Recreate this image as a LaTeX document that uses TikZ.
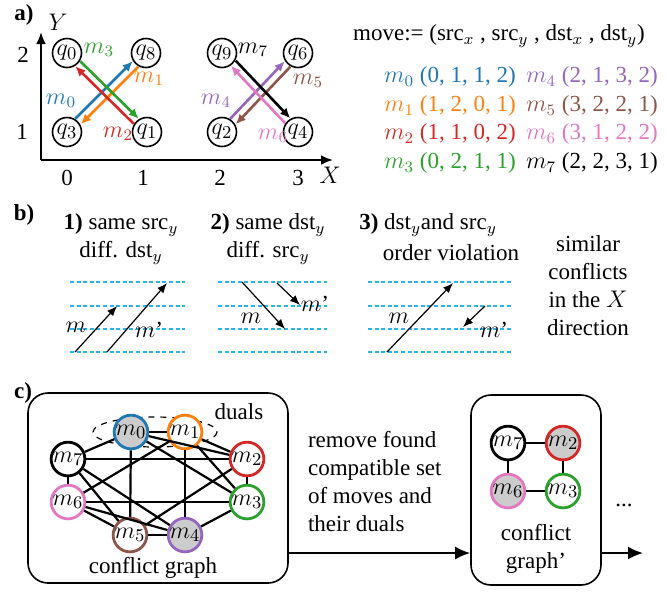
\documentclass[tikz,border=0pt]{standalone}
\usepackage{fontspec}
\setmainfont{Liberation Serif}
\usetikzlibrary{arrows.meta,calc}

\definecolor{c0}{RGB}{31,119,180}
\definecolor{c1}{RGB}{255,127,14}
\definecolor{c2}{RGB}{214,39,40}
\definecolor{c3}{RGB}{44,160,44}
\definecolor{c4}{RGB}{148,103,189}
\definecolor{c5}{RGB}{140,86,75}
\definecolor{c6}{RGB}{227,119,194}
\definecolor{c7}{RGB}{0,0,0}
\definecolor{dashcyan}{RGB}{40,180,230}
\definecolor{dualfill}{RGB}{204,204,204}

\begin{document}
\begin{tikzpicture}[x=0.5pt,y=-0.5pt,
  every node/.style={font=\fontsize{11.5}{14}\selectfont},
  qnode/.style={circle,draw,line width=0.8pt,minimum size=14.5pt,inner sep=0pt,font=\fontsize{12.5}{14}\selectfont},
  mv/.style={line width=1.3pt,-{Latex[length=5pt,width=4.5pt]}},
  axisline/.style={line width=1.3pt,-{Latex[length=6pt,width=5pt]}},
  guide/.style={dashcyan,line width=0.6pt,dash pattern=on 2pt off 1.3pt},
  thinarrow/.style={line width=0.6pt,-{Latex[length=5pt,width=4pt]}},
  gnode/.style={circle,draw,line width=1.4pt,minimum size=15pt,inner sep=0pt,fill=white,font=\fontsize{12.5}{14}\selectfont},
  dual/.style={gnode,fill=dualfill},
  gedge/.style={line width=1.1pt},
  box/.style={draw,rounded corners=10pt,line width=0.8pt},
  flow/.style={line width=1pt,-{Latex[length=7.5pt,width=6.5pt]}},
  lbl/.style={font=\fontsize{11.5}{14}\selectfont\bfseries}]

\useasboundingbox (0,0) rectangle (667,591);

% ---------------- a) coordinate grid with moves ----------------
\node[lbl] (la) at (24,15) {a)};
\coordinate (org) at (41,160);
\coordinate (ytop) at (41,32);
\coordinate (xend) at (333,160);
\draw[axisline] (org) -- (ytop);
\draw[axisline] (org) -- (xend);
\node (ylab) at (58,22) {$Y$};
\node (xlab) at (330,175) {$X$};
\node (ty2) at (23,55) {2};
\node (ty1) at (22,132) {1};
\node (tx0) at (67,178) {0};
\node (tx1) at (143,178) {1};
\node (tx2) at (220,178) {2};
\node (tx3) at (298,178) {3};

\node[qnode] (q0) at (67,53) {$q_0$};
\node[qnode] (q8) at (146,53) {$q_8$};
\node[qnode] (q3) at (67,132) {$q_3$};
\node[qnode] (q1) at (147,132) {$q_1$};
\node[qnode] (q9) at (222,53) {$q_9$};
\node[qnode] (q6) at (298,53) {$q_6$};
\node[qnode] (q2) at (222,132) {$q_2$};
\node[qnode] (q4) at (298,132) {$q_4$};

\draw[mv,c0] ([shift={(-2.5,-2.5)}]q3.45) -- ([shift={(-2.5,-2.5)}]q8.225);
\draw[mv,c1] ([shift={(3,3)}]q8.225) -- ([shift={(3,3)}]q3.45);
\draw[mv,c2] ([shift={(-2.5,2.5)}]q1.135) -- ([shift={(-2.5,2.5)}]q0.315);
\draw[mv,c3] ([shift={(2.5,-2.5)}]q0.315) -- ([shift={(2.5,-2.5)}]q1.135);
\draw[mv,c4] ([shift={(-2.5,-2.5)}]q2.45) -- ([shift={(-2.5,-2.5)}]q6.225);
\draw[mv,c5] ([shift={(3,3)}]q6.225) -- ([shift={(3,3)}]q2.45);
\draw[mv,c6] ([shift={(-2,2)}]q4.135) -- ([shift={(-2,2)}]q9.315);
\draw[mv,c7] ([shift={(3,-3)}]q9.315) -- ([shift={(3,-3)}]q4.135);

\node[text=c3] (l3) at (99,50) {$m_3$};
\node[text=c1] (l1) at (149,79) {$m_1$};
\node[text=c0] (l0) at (61,101) {$m_0$};
\node[text=c2] (l2) at (118,134) {$m_2$};
\node[text=c7] (l7) at (253,50) {$m_7$};
\node[text=c5] (l5) at (308,81) {$m_5$};
\node[text=c4] (l4) at (216,101) {$m_4$};
\node[text=c6] (l6) at (273,136) {$m_6$};

\node (movedef) at (499,36) {move:= (src$_x$ , src$_y$ , dst$_x$ , dst$_y$)};
\node[anchor=west,text=c0] (t0) at (377,77) {$m_0$ (0, 1, 1, 2)};
\node[anchor=west,text=c1] (t1) at (377,106) {$m_1$ (1, 2, 0, 1)};
\node[anchor=west,text=c2] (t2) at (377,134) {$m_2$ (1, 1, 0, 2)};
\node[anchor=west,text=c3] (t3) at (377,163) {$m_3$ (0, 2, 1, 1)};
\node[anchor=west,text=c4] (t4) at (519,77) {$m_4$ (2, 1, 3, 2)};
\node[anchor=west,text=c5] (t5) at (519,106) {$m_5$ (3, 2, 2, 1)};
\node[anchor=west,text=c6] (t6) at (519,134) {$m_6$ (3, 1, 2, 2)};
\node[anchor=west,text=c7] (t7) at (519,163) {$m_7$ (2, 2, 3, 1)};

% ---------------- b) conflict kinds ----------------
\node[lbl] (lb) at (24,215) {b)};
\node[align=center] (b1) at (121,239) {\textbf{1)} same src$_y$\\ diff. dst$_y$};
\node[align=center] (b2) at (268,239) {\textbf{2)} same dst$_y$\\ diff. src$_y$};
\node (b3a) at (428,225) {\textbf{3)} dst$_y$and src$_y$};
\node (b3b) at (451,253) {order violation};
\node[align=center] (b4) at (588,286) {similar\\conflicts\\in the $X$\\direction};

\foreach \y in {282,306,329,352} {
  \draw[guide] (70,\y) -- (185,\y);
  \draw[guide] (218,\y) -- (327,\y);
  \draw[guide] (368,\y) -- (513,\y);
}
% case 1
\draw[thinarrow] (75,352) -- (117,306);
\draw[thinarrow] (107,352) -- (167,283);
\node (b1m) at (76,327) {$m$};
\node (b1n) at (149,330) {$m$'};
% case 2
\draw[thinarrow] (242,282) -- (285,329);
\draw[thinarrow] (277,283) -- (300,305);
\node (b2m) at (251,318) {$m$};
\node (b2n) at (315,304) {$m$'};
% case 3
\draw[thinarrow] (387,352) -- (453,283);
\draw[thinarrow] (485,306) -- (463,327);
\node (b3m) at (399,318) {$m$};
\node (b3n) at (494,330) {$m$'};

% ---------------- c) conflict graph reduction ----------------
\node[lbl] (lc) at (23,393) {c)};
\node[box,minimum width=130pt,minimum height=95pt] (bigbox) at (158,488) {};
\node[box,minimum width=65pt,minimum height=95pt] (smallbox) at (536,490) {};

\draw[dashed,line width=0.6pt] (155,432) ellipse [x radius=62, y radius=15];
\node (duals) at (239,412) {duals};

\node[dual,draw=c0] (g0) at (131,432) {$m_0$};
\node[gnode,draw=c1] (g1) at (185,432) {$m_1$};
\node[gnode,draw=c7] (g7) at (68,459) {$m_7$};
\node[gnode,draw=c2] (g2) at (247,459) {$m_2$};
\node[gnode,draw=c6] (g6) at (68,502) {$m_6$};
\node[gnode,draw=c3] (g3) at (247,502) {$m_3$};
\node[gnode,draw=c5] (g5) at (130,535) {$m_5$};
\node[dual,draw=c4] (g4) at (185,535) {$m_4$};

\foreach \a/\b in {0/1,0/7,0/2,0/3,0/5,1/2,1/6,1/4,1/3,7/2,7/6,7/5,7/4,2/3,2/5,6/3,6/4,6/5,5/4,4/3}
  \draw[gedge] (g\a) -- (g\b);

\node (cg) at (153,568) {conflict graph};

\node[anchor=west,align=left] (remove) at (301,481) {remove found\\compatible set\\of moves and\\their duals};

\node[gnode,draw=c7] (h7) at (508,443) {$m_7$};
\node[dual,draw=c2] (h2) at (563,443) {$m_2$};
\node[dual,draw=c6] (h6) at (508,491) {$m_6$};
\node[gnode,draw=c3] (h3) at (563,491) {$m_3$};
\draw[gedge] (h7) -- (h2);
\draw[gedge] (h7) -- (h6);
\draw[gedge] (h2) -- (h3);
\draw[gedge] (h6) -- (h3);
\node[align=center] (cg2) at (536,549) {conflict\\graph'};

\coordinate (ay) at (0,553);
\coordinate (tail) at (643,553);
\draw[flow] (bigbox.east |- ay) -- (smallbox.west |- ay);
\draw[flow] (smallbox.east |- ay) -- (tail);
\node (more) at (624,505) {...};

\end{tikzpicture}
\end{document}
